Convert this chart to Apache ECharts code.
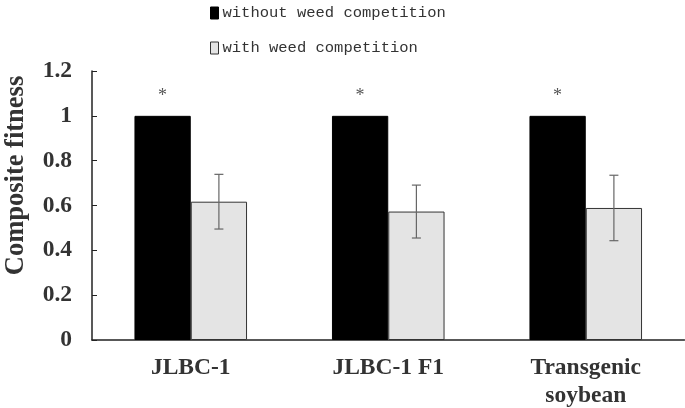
<!DOCTYPE html>
<html><head><meta charset="utf-8">
<script src="https://cdn.jsdelivr.net/npm/echarts@6/dist/echarts.min.js"></script>
<style>html,body{margin:0;padding:0;background:#fff}#c{width:685px;height:408px}</style>
</head><body><div id="c"></div>
<script>
var categories = ['JLBC-1', 'JLBC-1 F1', 'Transgenic\nsoybean'];
var seriesNames = ['without weed competition', 'with weed competition'];
var withoutWeed = [1, 1, 1];
var withWeed = [0.617, 0.573, 0.589];
var withWeedErr = [0.122, 0.118, 0.146];
var significance = ['*', '*', '*'];
var yTicks = {min: 0, max: 1.2, interval: 0.2};

var chart = echarts.init(document.getElementById('c'), null, {renderer: 'canvas'});
var CAT_GAP = 0.43;
var errData = withWeed.map(function (v, i) { return [i, v - withWeedErr[i], v + withWeedErr[i]]; });
var serif = 'Liberation Serif';

chart.setOption({
  backgroundColor: '#fff',
  animation: false,
  legend: {
    orient: 'vertical', left: 205, top: 0, icon: 'rect',
    itemWidth: 8, itemHeight: 12, itemGap: 19,
    textStyle: {fontFamily: 'Liberation Mono', fontSize: 15.5, color: '#333', padding: [0, 0, 0, -1]},
    data: [
      {name: seriesNames[0], itemStyle: {color: '#000', borderColor: '#000', borderWidth: 1}},
      {name: seriesNames[1], itemStyle: {color: '#e4e4e4', borderColor: '#333', borderWidth: 1}}
    ]
  },
  grid: {left: 92, right: 0.5, top: 71, bottom: 68, containLabel: false, outerBoundsMode: 'none'},
  xAxis: {
    type: 'category', data: categories,
    axisLine: {lineStyle: {color: '#222', width: 1.5}},
    axisTick: {show: false},
    axisLabel: {fontFamily: serif, fontWeight: 'bold', fontSize: 23.5, color: '#333', margin: 14, lineHeight: 28}
  },
  yAxis: {
    type: 'value', min: yTicks.min, max: yTicks.max, interval: yTicks.interval,
    name: 'Composite fitness', nameLocation: 'middle', nameGap: 62, nameRotate: 90,
    nameTextStyle: {fontFamily: serif, fontWeight: 'bold', fontSize: 26.5, color: '#333', padding: [0, 0, 0, 60]},
    axisLine: {show: true, lineStyle: {color: '#222', width: 1.5}},
    axisTick: {show: true, inside: true, length: 5, lineStyle: {color: '#222'}},
    splitLine: {show: false},
    axisLabel: {fontFamily: serif, fontWeight: 'bold', fontSize: 23.5, color: '#333', margin: 20}
  },
  series: [
    {
      name: seriesNames[0], type: 'bar', data: withoutWeed,
      barGap: '0%', barCategoryGap: (CAT_GAP * 100) + '%',
      itemStyle: {color: '#000', borderColor: '#000', borderWidth: 1},
      label: {show: true, position: 'top', distance: 11,
        formatter: function (p) { return significance[p.dataIndex]; },
        fontFamily: 'Liberation Serif', fontSize: 18, color: '#555'}
    },
    {
      name: seriesNames[1], type: 'bar', data: withWeed,
      itemStyle: {color: '#e4e4e4', borderColor: '#333', borderWidth: 1}
    },
    {
      type: 'custom', name: 'err', data: errData, z: 10,
      renderItem: function (params, api) {
        var i = api.value(0);
        var lo = api.coord([i, api.value(1)]);
        var hi = api.coord([i, api.value(2)]);
        var band = api.size([1, 0])[0];
        var x = lo[0] + band * (1 - CAT_GAP) / 4;
        var cap = 4.5;
        var st = {stroke: '#666', lineWidth: 1.2};
        return {type: 'group', children: [
          {type: 'line', shape: {x1: x, y1: lo[1], x2: x, y2: hi[1]}, style: st},
          {type: 'line', shape: {x1: x - cap, y1: lo[1], x2: x + cap, y2: lo[1]}, style: st},
          {type: 'line', shape: {x1: x - cap, y1: hi[1], x2: x + cap, y2: hi[1]}, style: st}
        ]};
      }
    }
  ]
});
</script></body></html>
